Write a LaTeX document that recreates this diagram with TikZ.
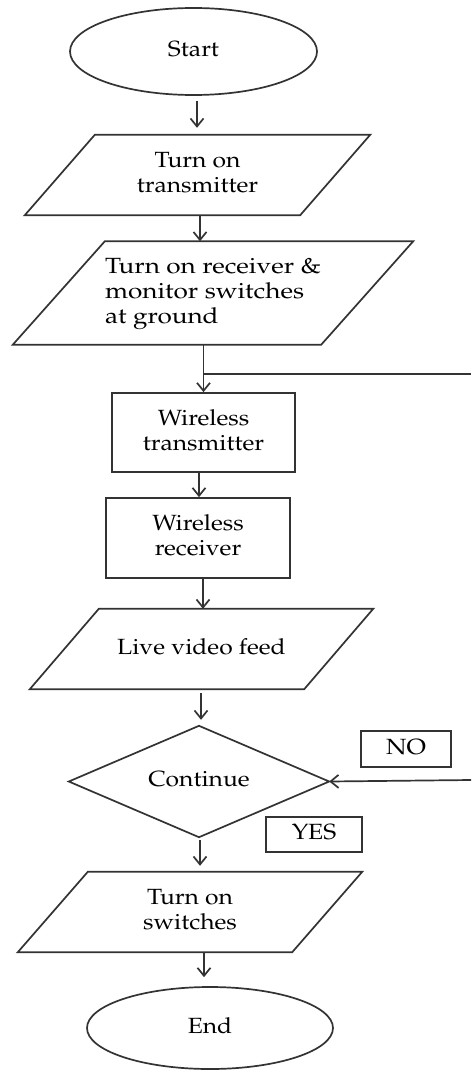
\documentclass[tikz,border=0pt]{standalone}
\usepackage[T1]{fontenc}
\usepackage{mathpazo}
\usepackage{graphicx}
\usetikzlibrary{arrows.meta,shapes.geometric}
\newcommand\tx[2][c]{\scalebox{1.12}[1]{\begin{tabular}{@{}#1@{}}#2\end{tabular}}}
\newcommand\drawpara[2]{\draw[ln] (#1.south west) -- ([xshift=#2]#1.north west) -- (#1.north east) -- ([xshift=-#2]#1.south east) -- cycle;}
\tikzset{
  every node/.style={font=\fontsize{22}{25}\selectfont, inner sep=0pt, text=black},
  ln/.style={line width=1.7pt, draw=black!80},
  arr/.style={line width=1.7pt, draw=black!80, -{Straight Barb[length=8pt,width=13pt]}},
  frame/.style={rectangle, minimum width=#1},
  boxed/.style={rectangle, draw=black!80, line width=1.7pt},
  oval/.style={ellipse, draw=black!80, line width=1.7pt},
}
\begin{document}
\begin{tikzpicture}[x=1pt,y=-1pt]
\fill[white] (0,0) rectangle (471,1070);
\useasboundingbox (0,0) rectangle (471,1070);

\node[oval, minimum width=247pt, minimum height=87pt] (start) at (193.5,51.5) {\tx{Start}};

\node[frame=345pt, minimum height=80pt] (p1) at (197.5,175) {\tx{Turn on\\transmitter}};
\drawpara{p1}{70pt}

\node[frame=400pt, minimum height=103pt] (p2) at (213,293) {\scalebox{1.06}[1]{\tx[l]{Turn on receiver \&\\monitor switches\\at ground}}};
\drawpara{p2}{92pt}

\node[boxed, minimum width=183pt, minimum height=79pt] (r1) at (203.5,432.5) {\tx{Wireless\\transmitter}};
\node[boxed, minimum width=184pt, minimum height=80pt] (r2) at (198,538) {\tx{Wireless\\receiver}};

\node[frame=343pt, minimum height=80pt] (p3) at (201.5,649) {\tx{Live video feed}};
\drawpara{p3}{69pt}

\node[frame=260pt, minimum height=111pt] (dia) at (199,781.5) {\tx{Continue}};
\draw[ln] (dia.north) -- (dia.east) -- (dia.south) -- (dia.west) -- cycle;

\node[boxed, minimum width=90pt, minimum height=36pt] (no) at (406,749) {\tx{NO}};
\node[boxed, minimum width=96pt, minimum height=35pt] (yes) at (314,834.5) {\tx{YES}};

\node[frame=344pt, minimum height=80pt] (p4) at (190,912) {\tx{Turn on\\switches}};
\drawpara{p4}{70pt}

\node[oval, minimum width=246pt, minimum height=82pt] (end) at (210,1028) {\tx{End}};

\coordinate (jn) at (203.5,374);
\coordinate (je) at (471,374);
\coordinate (ne) at (471,780);

\draw[arr, shorten <=5pt, shorten >=7pt] ([xshift=3.5pt]start.south) -- ([xshift=-0.5pt]p1.north);
\draw[arr] ([xshift=2.5pt]p1.south) -- ([xshift=-13pt]p2.north);
\draw[ln] ([xshift=-9.5pt]p2.south) -- (jn);
\draw[ln] (jn) -- (je);
\draw[arr] (jn) -- (r1.north);
\draw[arr] ([xshift=-4.5pt]r1.south) -- ([xshift=1pt]r2.north);
\draw[arr] ([xshift=5pt]r2.south) -- ([xshift=1.5pt]p3.north);
\draw[arr, shorten <=4pt, shorten >=6pt] ([xshift=-0.5pt]p3.south) -- ([xshift=2pt]dia.north);
\draw[arr, shorten <=3pt, shorten >=6pt] ([xshift=1pt]dia.south) -- ([xshift=10pt]p4.north);
\draw[arr, shorten >=9pt] ([xshift=14pt]p4.south) -- ([xshift=-6pt]end.north);
\draw[arr] (ne) -- (dia.east);
\end{tikzpicture}
\end{document}
